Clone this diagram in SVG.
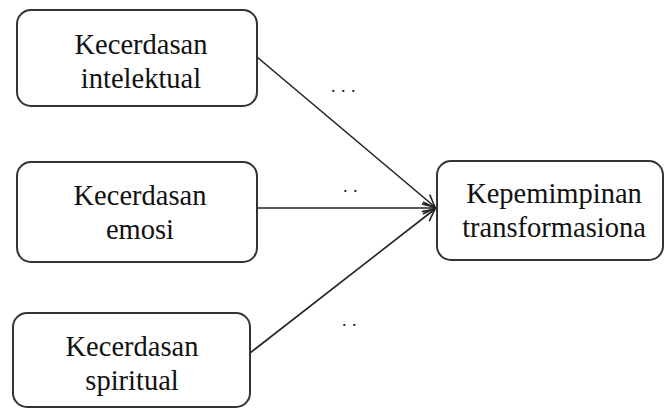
<svg xmlns="http://www.w3.org/2000/svg" width="665" height="409" viewBox="0 0 665 409">
<style>
.box{fill:#fff;stroke:#333;stroke-width:2}
.lbl{font-family:"Liberation Serif","Times New Roman",serif;font-size:28.5px;fill:#111;text-anchor:middle}
.dots{font-family:"Liberation Serif","Times New Roman",serif;font-size:18px;fill:#222;letter-spacing:5.5px}
.conn{stroke:#222;stroke-width:1.6;fill:none}
</style>
<defs>
<marker id="arr" markerWidth="14" markerHeight="14" refX="13" refY="7" orient="auto" markerUnits="userSpaceOnUse">
<path d="M1,1 L13,7 L1,13" fill="none" stroke="#222" stroke-width="1.6"/>
</marker>
</defs>
<rect width="665" height="409" fill="#fff"/>
<g id="connectors">
<line class="conn" x1="257" y1="57" x2="435" y2="207" marker-end="url(#arr)"/>
<line class="conn" x1="257" y1="208" x2="435" y2="208" marker-end="url(#arr)"/>
<line class="conn" x1="250" y1="353" x2="435" y2="209" marker-end="url(#arr)"/>
<text class="dots" x="331" y="92">...</text>
<text class="dots" x="343" y="192">..</text>
<text class="dots" x="342" y="326">..</text>
</g>
<g id="node-intelektual">
<rect class="box" x="17" y="10" width="240" height="96" rx="14"/>
<text class="lbl" x="141" y="54">Kecerdasan</text>
<text class="lbl" x="141" y="88">intelektual</text>
</g>
<g id="node-emosi">
<rect class="box" x="17" y="162" width="240" height="100" rx="14"/>
<text class="lbl" x="140" y="205">Kecerdasan</text>
<text class="lbl" x="140" y="239">emosi</text>
</g>
<g id="node-spiritual">
<rect class="box" x="13" y="313" width="237" height="94" rx="14"/>
<text class="lbl" x="132" y="356">Kecerdasan</text>
<text class="lbl" x="132" y="390">spiritual</text>
</g>
<g id="node-kepemimpinan">
<rect class="box" x="437" y="161" width="226" height="99" rx="14"/>
<text class="lbl" x="554" y="203">Kepemimpinan</text>
<text class="lbl" x="554" y="237">transformasiona</text>
</g>
</svg>
